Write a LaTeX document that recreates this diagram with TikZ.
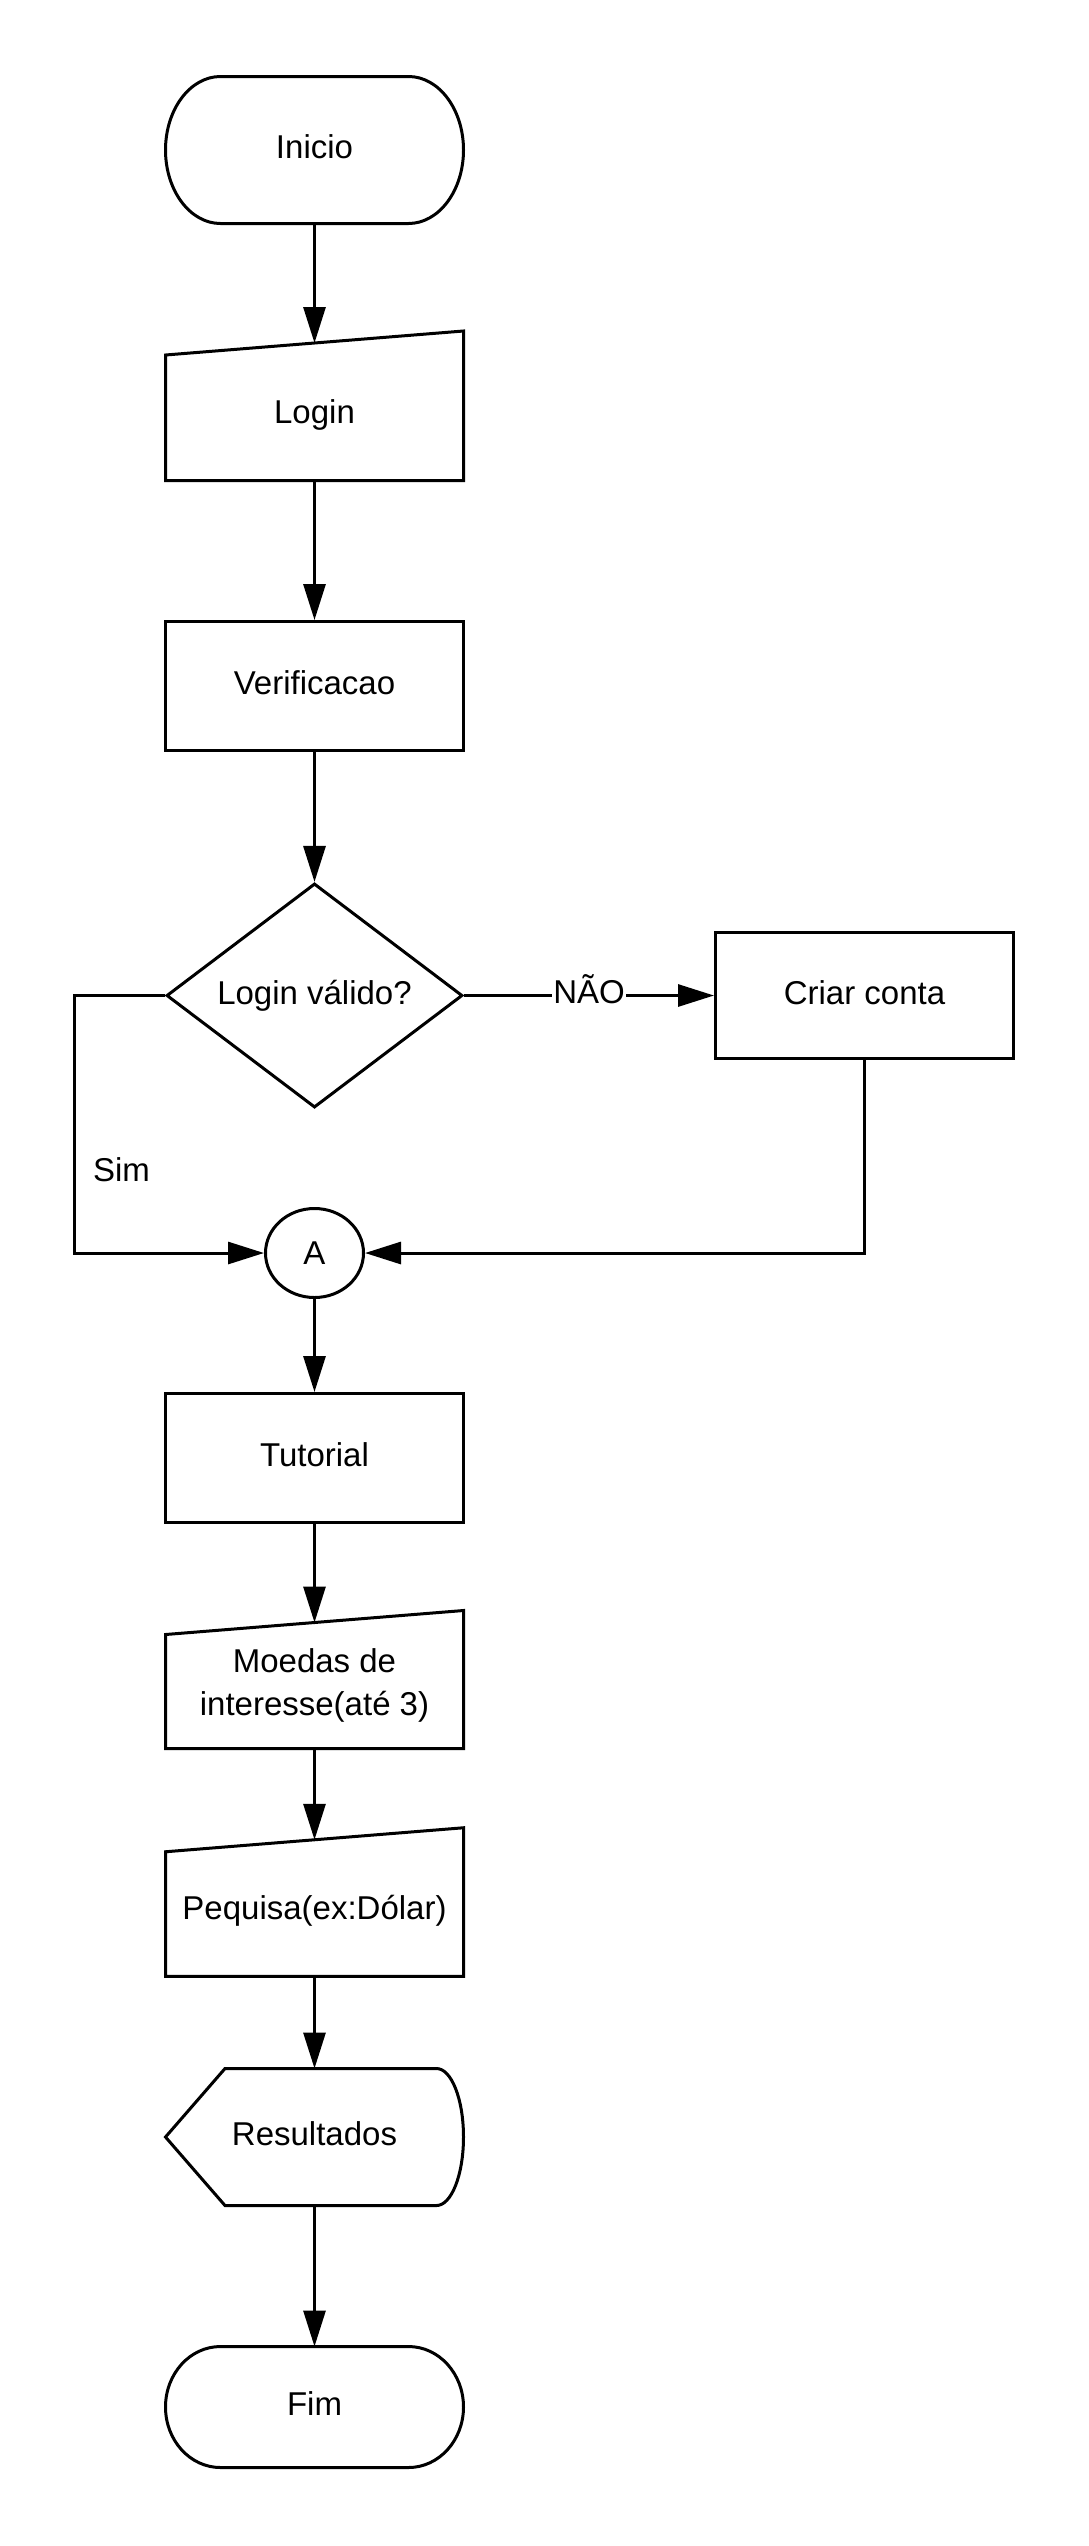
\documentclass[tikz,border=0pt]{standalone}
\usepackage{fontspec}
\setmainfont{Liberation Sans}
\usetikzlibrary{positioning,shapes.geometric,arrows.meta}

\begin{document}
\begin{tikzpicture}[x=1pt,y=-1pt,on grid,line width=3pt,font=\fontsize{33}{43.5}\selectfont,
        >={Triangle[length=36pt,width=22pt]}]
        \tikzstyle{base}=[inner sep=0pt,align=center,text height=23.6pt,text depth=6pt,minimum width=298pt]
        \tikzstyle{process}=[base,draw,rectangle,minimum height=129pt]
        \tikzstyle{terminal}=[base,outer sep=0pt]
        \tikzstyle{input}=[base,outer sep=0pt,text depth=0pt]
        \tikzstyle{decision}=[base,draw,diamond,minimum width=296pt,minimum height=221pt]
        \tikzstyle{connector}=[base,draw,ellipse,minimum width=98pt,minimum height=89pt,text depth=0pt]
        \tikzstyle{display}=[base,outer sep=0pt,minimum height=137pt]
        \tikzstyle{flow}=[->]
        \useasboundingbox (0,0) rectangle (1089,2546);

        \node[terminal,minimum height=147pt] (inicio) at (314.5,150) {Inicio};
        \node[input,minimum height=137.5pt] (login) [below=261.75pt of inicio] {Login};
        \node[process] (verif) [below=274.25pt of login] {Verificacao};
        \node[decision] (valid) [below=309.5pt of verif] {Login válido?};
        \node[process,minimum height=126pt] (criar) [right=550pt of valid] {Criar conta};
        \node[connector] (conA) [below=257.5pt of valid] {A};
        \node[process] (tutorial) [below=205pt of conA] {Tutorial};
        \node[input,minimum height=126pt,text height=,text depth=] (moedas) [below=227.5pt of tutorial] {Moedas de\\interesse(até 3)};
        \node[input,minimum height=136.5pt] (pesquisa) [below=222.5pt of moedas] {Pequisa(ex:Dólar)};
        \node[display] (result) [below=229pt of pesquisa] {Resultados};
        \node[terminal,minimum height=121pt] (fim) [below=270pt of result] {Fim};

        % outlines of the drawn-by-hand shapes
        \foreach \n/\r in {inicio/73.5,fim/60.5}
            \draw ([xshift=55pt]\n.north west) -- ([xshift=-55pt]\n.north east)
                arc[start angle=90,end angle=-90,x radius=55pt,y radius=\r pt]
                -- ([xshift=55pt]\n.south west)
                arc[start angle=270,end angle=90,x radius=55pt,y radius=\r pt] -- cycle;
        \foreach \n in {login,moedas,pesquisa}
            \draw (\n.south west) -- (\n.south east) -- ([yshift=12pt]\n.north east)
                -- ([yshift=-12pt]\n.north west) -- cycle;
        \draw (result.west) -- ([xshift=59.5pt]result.north west) -- ([xshift=-27pt]result.north east)
            arc[start angle=90,end angle=-90,x radius=27pt,y radius=68.5pt]
            -- ([xshift=59.5pt]result.south west) -- cycle;

        % connectors
        \foreach \a/\b in {inicio/login,login/verif,verif/valid,conA/tutorial,tutorial/moedas,moedas/pesquisa,pesquisa/result,result/fim}
            \draw[flow] (\a) -- (\b);
        \draw[flow] (valid) -- node[fill=white,inner sep=1pt,text height=23.6pt,text depth=0pt,yshift=3.5pt] {NÃO} (criar);
        \draw[flow] (valid.west) -- ++(-91pt,0) |- node[pos=0.339,anchor=west,xshift=17.5pt,inner sep=0pt] {Sim} (conA.west);
        \draw[flow] (criar.south) |- (conA.east);
    \end{tikzpicture}
\end{document}
